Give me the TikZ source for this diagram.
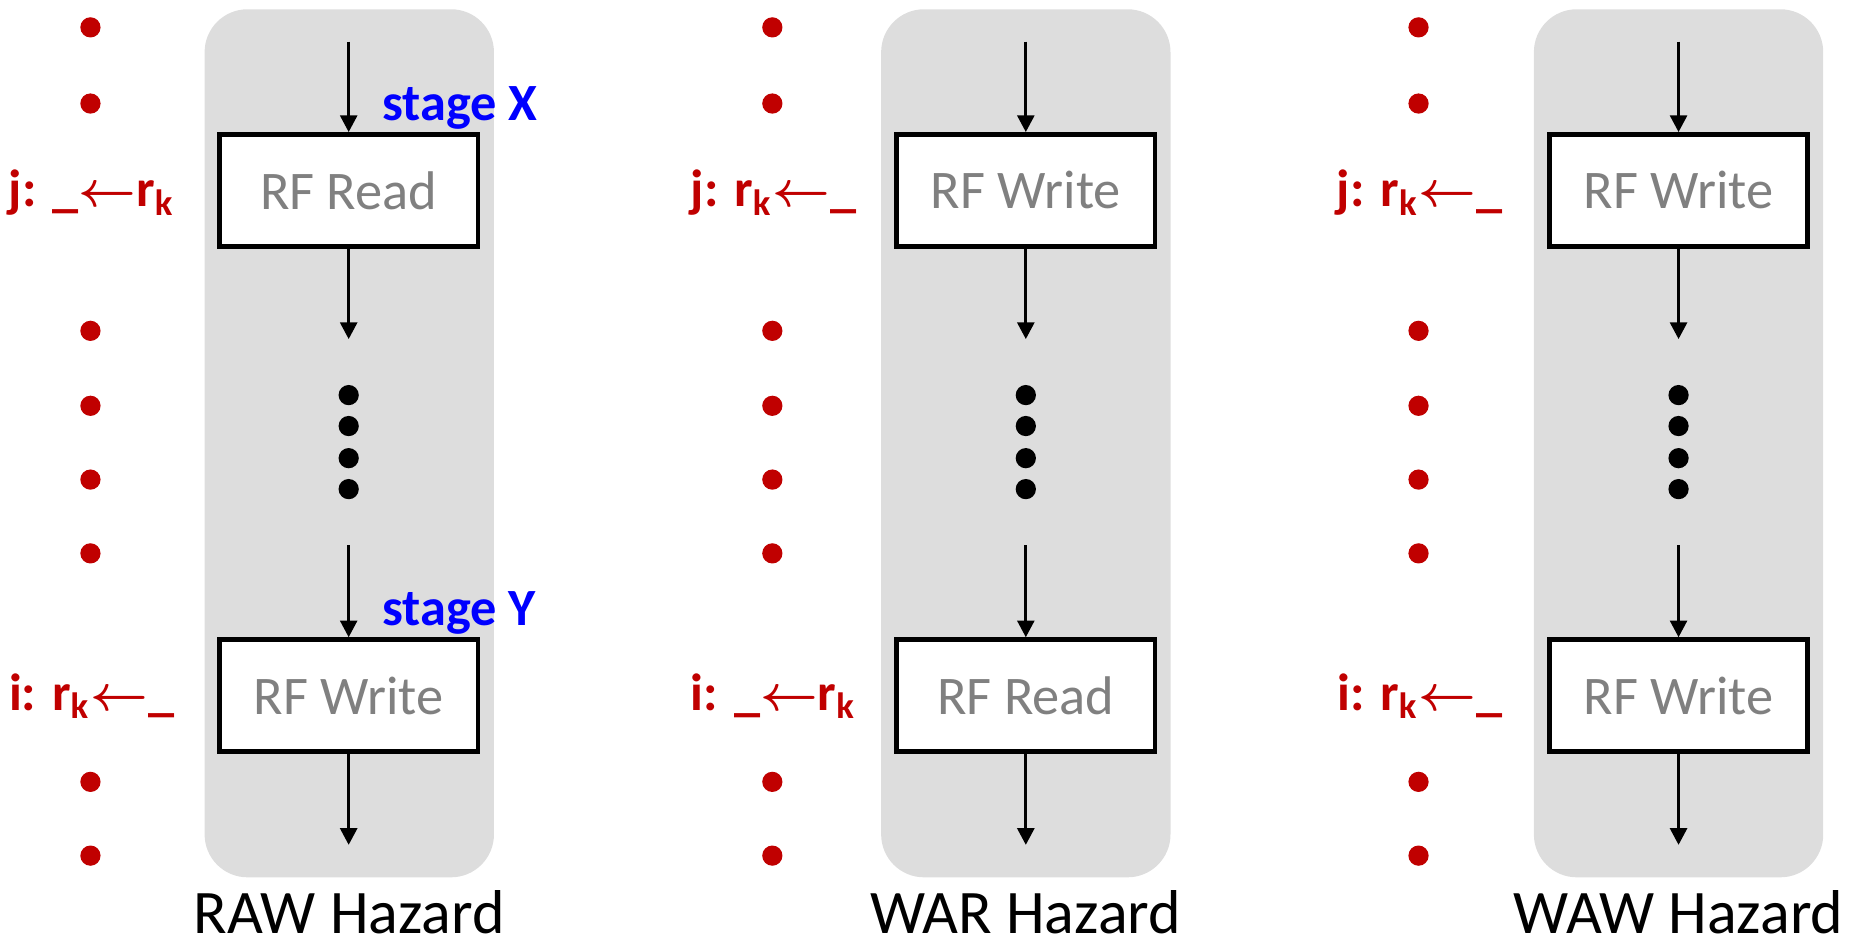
\documentclass[tikz,border=0pt]{standalone}
\usepackage{fontspec}
\setmainfont{Carlito}
\usetikzlibrary{positioning,arrows.meta}
\definecolor{hzred}{RGB}{192,0,0}
\definecolor{hzblue}{RGB}{0,0,255}
\definecolor{panelgray}{RGB}{221,221,221}
\definecolor{boxtext}{RGB}{128,128,128}
\newcommand{\rk}{r\textsubscript{k}}
\newcommand{\la}{{\boldmath$\leftarrow$}}

\tikzset{
  panel/.style={fill=panelgray, rounded corners=0.36cm, minimum width=2.43cm, minimum height=7.29cm, inner sep=0pt},
  stagebox/.style={draw, line width=1.1pt, fill=white, minimum width=2.17cm, minimum height=0.94cm,
    inner sep=0pt, text=boxtext, font=\fontsize{13}{15}\selectfont},
  flow/.style={-{Triangle[width=4pt,length=4pt]}, line width=0.8pt},
  instr/.style={text=hzred, font=\bfseries\fontsize{12.5}{14}\selectfont},
  stagelbl/.style={text=hzblue, anchor=west, font=\bfseries\fontsize{12.5}{14}\selectfont},
  rdot/.style={circle, fill=hzred, minimum size=0.17cm, inner sep=0pt},
  bdot/.style={circle, fill=black, minimum size=0.17cm, inner sep=0pt},
  caption/.style={inner sep=0pt, font=\fontsize{14.8}{18}\selectfont},
}

\begin{document}
\begin{tikzpicture}[x=0.01cm, y=-0.01cm]

\useasboundingbox (0,0) rectangle (1568,791);

% RAW: read early, write late

\node[panel]                    (rawpanel) at (293.5,372.5) {};
\node[stagebox]                 (rawread)  at (293,160) {RF Read};
\node[stagebox]                 (rawwrite) at (293,584.5) {RF Write};
\node[stagelbl]                 (stagex)   at (309,91) {stage X};
\node[stagelbl]                 (stagey)   at (309,515) {stage Y};
\node[instr]                    (rawj)     at (77,162) {j: \_\la\rk};
\node[instr]                    (rawi)     at (77,585) {i: \rk\la\_};
\node[caption, below=0.10cm of rawpanel]   (rawcap) {RAW Hazard};

\coordinate (rawin)   at (293,35);
\coordinate (rawmid1) at (293,285);
\coordinate (rawmid2) at (293,458);
\coordinate (rawout)  at (293,710);

\foreach \y [count=\n] in {23,87,278,341,403,465,657,719}
  \node[rdot] (rawrdot\n) at (76,\y) {};
\foreach \y [count=\n] in {332,358,385,411}
  \node[bdot] (rawbdot\n) at (293,\y) {};

\draw[flow] (rawin) -- (rawread);
\draw[flow] (rawread) -- (rawmid1);
\draw[flow] (rawmid2) -- (rawwrite);
\draw[flow] (rawwrite) -- (rawout);

% WAR: write early, read late

\node[panel]                    (warpanel) at (862,372.5) {};
\node[stagebox]                 (warwrite) at (862,160) {RF Write};
\node[stagebox]                 (warread)  at (862,584.5) {RF Read};
\node[instr]                    (warj)     at (650,162) {j: \rk\la\_};
\node[instr]                    (wari)     at (650,585) {i: \_\la\rk};
\node[caption, below=0.10cm of warpanel]   (warcap) {WAR Hazard};

\coordinate (warin)   at (862,35);
\coordinate (warmid1) at (862,285);
\coordinate (warmid2) at (862,458);
\coordinate (warout)  at (862,710);

\foreach \y [count=\n] in {23,87,278,341,403,465,657,719}
  \node[rdot] (warrdot\n) at (649,\y) {};
\foreach \y [count=\n] in {332,358,385,411}
  \node[bdot] (warbdot\n) at (862,\y) {};

\draw[flow] (warin) -- (warwrite);
\draw[flow] (warwrite) -- (warmid1);
\draw[flow] (warmid2) -- (warread);
\draw[flow] (warread) -- (warout);

% WAW: two writes

\node[panel]                    (wawpanel) at (1410.5,372.5) {};
\node[stagebox]                 (wawfirst)  at (1410.5,160) {RF Write};
\node[stagebox]                 (wawsecond) at (1410.5,584.5) {RF Write};
\node[instr]                    (wawj)     at (1193,162) {j: \rk\la\_};
\node[instr]                    (wawi)     at (1193,585) {i: \rk\la\_};
\node[caption, below=0.10cm of wawpanel]   (wawcap) {WAW Hazard};

\coordinate (wawin)   at (1410.5,35);
\coordinate (wawmid1) at (1410.5,285);
\coordinate (wawmid2) at (1410.5,458);
\coordinate (wawout)  at (1410.5,710);

\foreach \y [count=\n] in {23,87,278,341,403,465,657,719}
  \node[rdot] (wawrdot\n) at (1192,\y) {};
\foreach \y [count=\n] in {332,358,385,411}
  \node[bdot] (wawbdot\n) at (1410.5,\y) {};

\draw[flow] (wawin) -- (wawfirst);
\draw[flow] (wawfirst) -- (wawmid1);
\draw[flow] (wawmid2) -- (wawsecond);
\draw[flow] (wawsecond) -- (wawout);

\end{tikzpicture}
\end{document}
